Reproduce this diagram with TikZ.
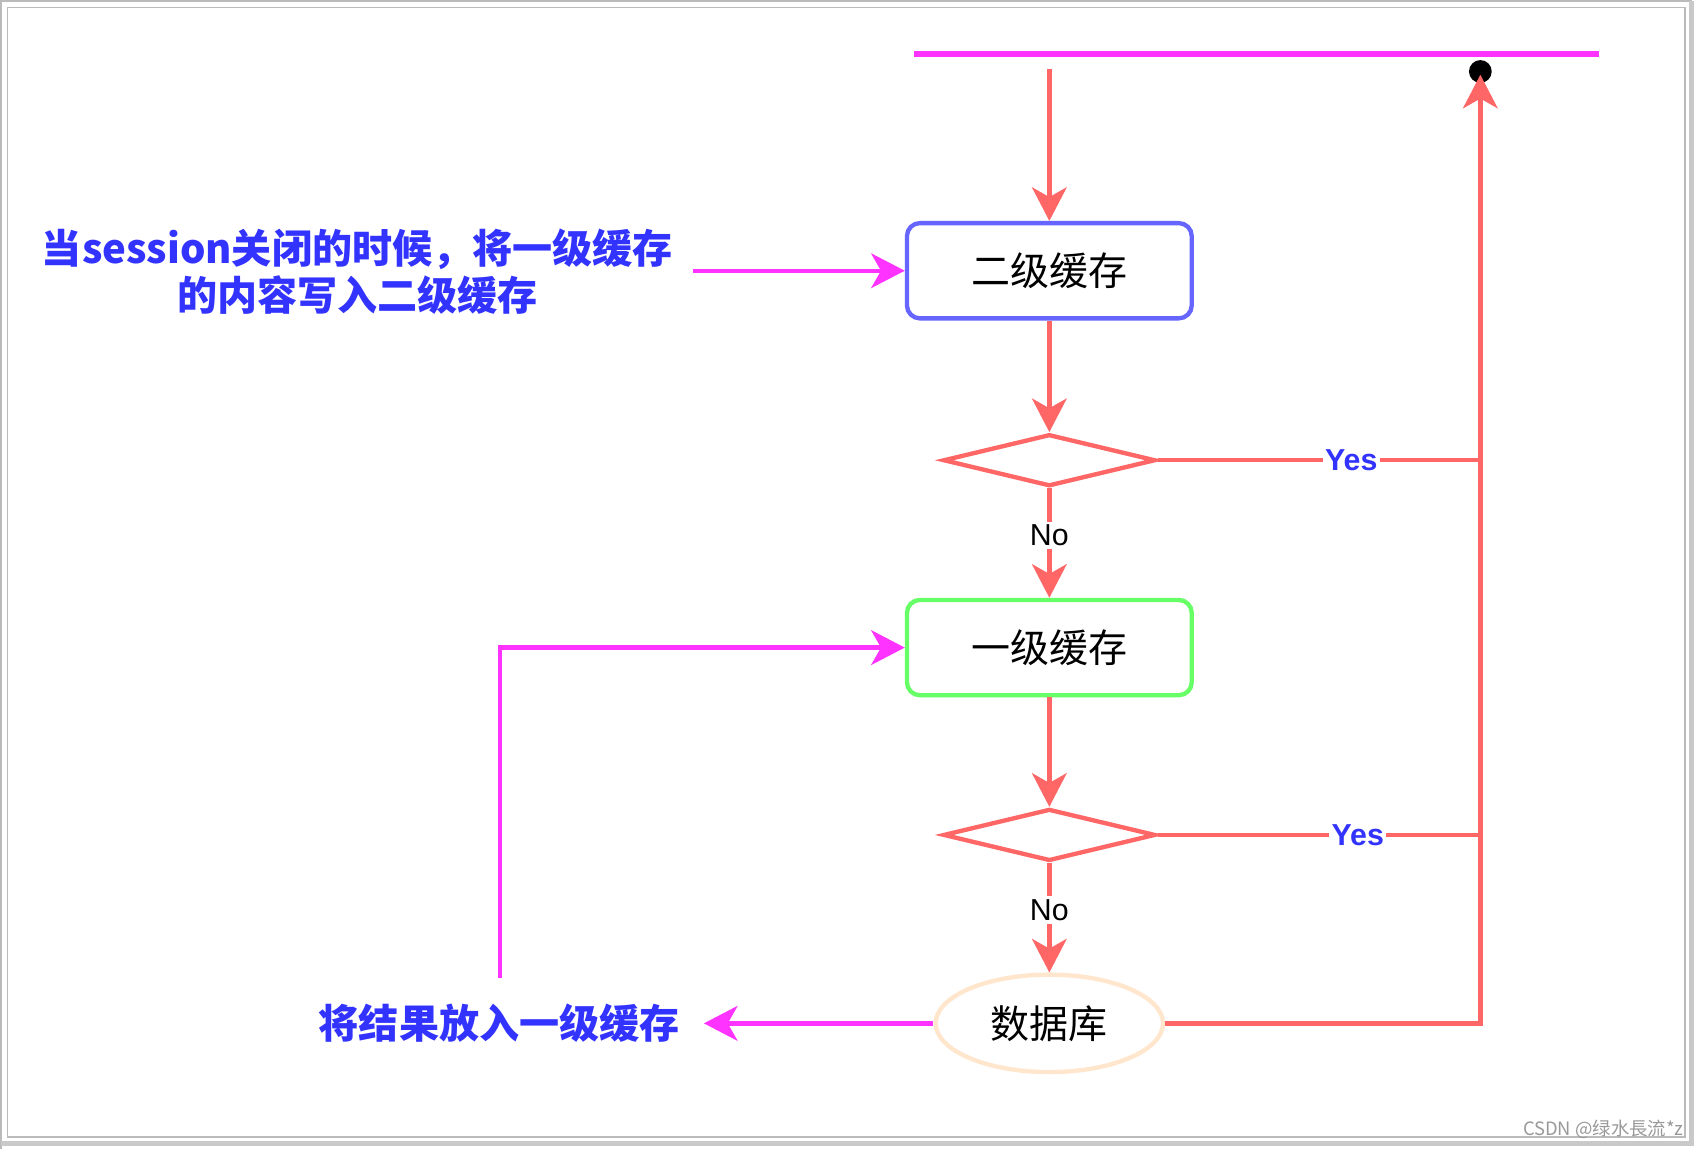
\documentclass[tikz,border=0pt]{standalone}
\usepackage{fontspec}
\setmainfont{Liberation Sans}
\newfontfamily\cjk{Noto Sans CJK SC}
\usetikzlibrary{arrows.meta,shapes.geometric}
\definecolor{cred}{HTML}{FF6666}
\definecolor{cmag}{HTML}{FF33FF}
\definecolor{cblue}{HTML}{6666FF}
\definecolor{cgreen}{HTML}{66FF66}
\definecolor{cpeach}{HTML}{FFE6CC}
\definecolor{ctext}{HTML}{3333FF}
\definecolor{cframe}{HTML}{BBBBBB}
\tikzset{
  redline/.style={draw=cred, line width=4pt},
  magline/.style={draw=cmag, line width=4pt},
  tipred/.style={-{Stealth[length=31pt,width=32pt,inset=9pt]}},
  boxnode/.style={rectangle, rounded corners=12pt, line width=4pt, fill=white,
    minimum width=263pt, minimum height=88pt, inner sep=0pt,
    font=\cjk\fontsize{36}{40}\selectfont},
  dianode/.style={diamond, draw=cred, line width=4pt, inner sep=0pt,
    minimum width=196pt, minimum height=48pt, shape aspect=4.08},
  ellnode/.style={ellipse, draw=cpeach, line width=4pt, inner sep=0pt,
    minimum width=210pt, minimum height=90pt,
    font=\cjk\fontsize{36}{40}\selectfont},
  yeslab/.style={fill=white, inner sep=2pt, text=ctext,
    font=\bfseries\fontsize{28}{30}\selectfont},
  nolab/.style={fill=white, inner sep=3pt, text=black,
    font=\fontsize{28}{30}\selectfont},
  bluetext/.style={text=ctext, align=center,
    font=\cjk\bfseries\fontsize{37}{44}\selectfont}
}
\begin{document}
\begin{tikzpicture}[x=1pt,y=-1pt]
\useasboundingbox (0,0) rectangle (1568,1061);
% frame
\fill[white] (0,0) rectangle (1568,1061);
\draw[cframe, line width=2pt] (1,1061) -- (1,1) -- (1562,1);
\draw[cframe!80, line width=4pt] (1562,1) -- (1562,1056) -- (1,1056);
\draw[cframe, line width=1.2pt] (7,7) rectangle (1556,1050);

% top bar and dot
\draw[cmag, line width=5pt] (844,50) -- (1477,50);
\node[circle, fill=black, minimum size=21pt, inner sep=0pt] (dot) at (1367,66) {};

% nodes
\coordinate (start) at (969,64);
\node[boxnode, draw=cblue] (l2) at (969,250) {二级缓存};
\node[dianode] (d1) at (969,425) {};
\node[boxnode, draw=cgreen] (l1) at (969,598) {一级缓存};
\node[dianode] (d2) at (969,771) {};
\node[ellnode] (db) at (969,945) {数据库};
\coordinate (j1) at (1367,425);
\coordinate (j2) at (1367,771);
\coordinate (tip) at (1367,69);

% red connectors
\draw[redline, tipred] (start) -- (l2.north);
\draw[redline, tipred] (l2.south) -- (d1.north);
\draw[redline] (d1.east) -- node[yeslab, pos=0.6] {Yes} (j1);
\draw[redline, tipred] (d1.south) -- node[nolab, pos=0.43] {No} (l1.north);
\draw[redline, tipred] (l1.south) -- (d2.north);
\draw[redline] (d2.east) -- node[yeslab, pos=0.62] {Yes} (j2);
\draw[redline, tipred] (d2.south) -- node[nolab, pos=0.43] {No} (db.north);
\draw[redline, tipred] (db.east) -| (tip);

% texts
\node[bluetext] (t1) at (330,251) {当session关闭的时候，将一级缓存\\的内容写入二级缓存};
\node[bluetext] (t2) at (461,945) {将结果放入一级缓存};

% magenta connectors
\coordinate (m1) at (640,250);
\coordinate (m2) at (650,945);
\coordinate (m3) at (462,903);
\draw[magline, tipred] (m1) -- (l2.west);
\draw[magline, tipred] (db.west) -- (m2);
\draw[magline, tipred] (m3) |- (l1.west);

% watermark
\node[anchor=east, text=black!40, font=\cjk\fontsize{17}{20}\selectfont, inner sep=0pt] (wm) at (1555,1043) {CSDN @绿水長流*z};
\end{tikzpicture}
\end{document}
